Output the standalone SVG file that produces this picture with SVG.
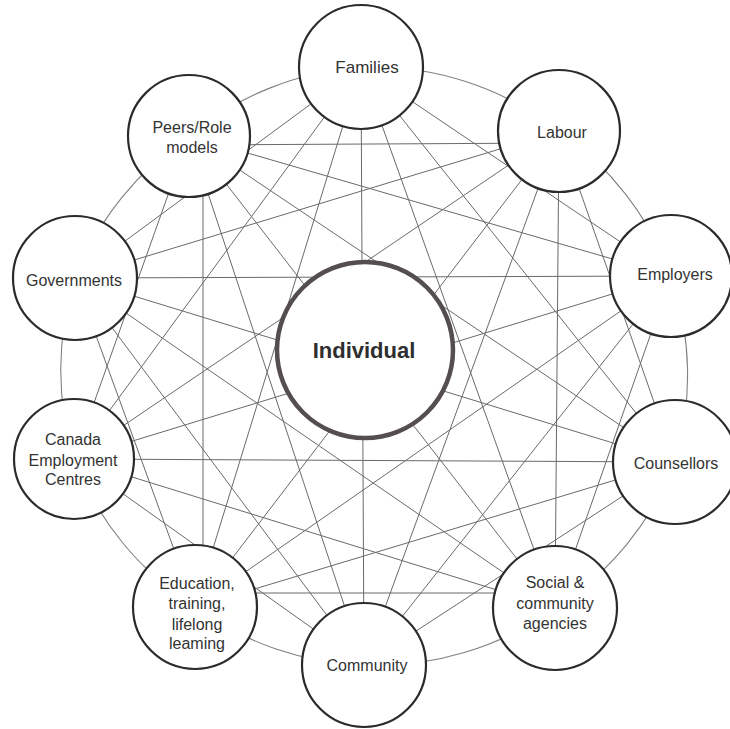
<svg xmlns="http://www.w3.org/2000/svg" width="730" height="729" viewBox="0 0 730 729">
  <style>
    .ring { fill: none; stroke: #808080; stroke-width: 1.1; }
    .link { stroke: #6a6a6a; stroke-width: 1; fill: none; }
    .node circle { fill: #ffffff; stroke: #2b2b2b; stroke-width: 2.2; }
    .node text { font-family: "Liberation Sans", Arial, sans-serif; font-size: 16px; fill: #333333; text-anchor: middle; }
    #individual circle { stroke: #544e4e; stroke-width: 4.5; }
    #individual text { font-size: 22px; font-weight: bold; fill: #2e2e2e; }
  </style>
  <rect width="730" height="729" fill="#ffffff"/>

  <g id="connectors">
    <!-- outer ring: arcs between neighbouring nodes -->
    <path class="ring" d="M361,67 A305,305 0 0 1 559,131 A305,305 0 0 1 671,276 A305,305 0 0 1 675,462 A305,305 0 0 1 555,608 A305,305 0 0 1 364,665 A305,305 0 0 1 195,607 A305,305 0 0 1 74,459 A305,305 0 0 1 75,278 A305,305 0 0 1 189,136 A305,305 0 0 1 361,67"/>
    <!-- Families -->
    <line class="link" x1="361" y1="67" x2="671" y2="276"/>
    <line class="link" x1="361" y1="67" x2="675" y2="462"/>
    <line class="link" x1="361" y1="67" x2="555" y2="608"/>
    <line class="link" x1="361" y1="67" x2="364" y2="665"/>
    <line class="link" x1="361" y1="67" x2="195" y2="607"/>
    <line class="link" x1="361" y1="67" x2="74" y2="459"/>
    <line class="link" x1="361" y1="67" x2="75" y2="278"/>
    <!-- Labour -->
    <line class="link" x1="559" y1="131" x2="675" y2="462"/>
    <line class="link" x1="559" y1="131" x2="555" y2="608"/>
    <line class="link" x1="559" y1="131" x2="364" y2="665"/>
    <line class="link" x1="559" y1="131" x2="195" y2="607"/>
    <line class="link" x1="559" y1="131" x2="74" y2="459"/>
    <line class="link" x1="559" y1="131" x2="75" y2="278"/>
    <line class="link" x1="559" y1="143" x2="189" y2="145"/>
    <!-- Employers -->
    <line class="link" x1="671" y1="276" x2="555" y2="608"/>
    <line class="link" x1="671" y1="276" x2="364" y2="665"/>
    <line class="link" x1="671" y1="276" x2="195" y2="607"/>
    <line class="link" x1="671" y1="276" x2="74" y2="459"/>
    <line class="link" x1="671" y1="276" x2="75" y2="278"/>
    <line class="link" x1="671" y1="276" x2="189" y2="136"/>
    <!-- Counsellors -->
    <line class="link" x1="675" y1="462" x2="364" y2="665"/>
    <line class="link" x1="675" y1="462" x2="195" y2="607"/>
    <line class="link" x1="675" y1="462" x2="74" y2="459"/>
    <line class="link" x1="675" y1="462" x2="75" y2="278"/>
    <line class="link" x1="675" y1="462" x2="189" y2="136"/>
    <!-- Social & community agencies -->
    <line class="link" x1="555" y1="593" x2="195" y2="593"/>
    <line class="link" x1="555" y1="608" x2="74" y2="459"/>
    <line class="link" x1="555" y1="608" x2="75" y2="278"/>
    <line class="link" x1="555" y1="608" x2="189" y2="136"/>
    <!-- Community -->
    <line class="link" x1="364" y1="665" x2="74" y2="459"/>
    <line class="link" x1="364" y1="665" x2="75" y2="278"/>
    <line class="link" x1="364" y1="665" x2="189" y2="136"/>
    <!-- Education -->
    <line class="link" x1="195" y1="607" x2="75" y2="278"/>
    <line class="link" x1="203" y1="600" x2="203" y2="140"/>
    <!-- Canada Employment Centres -->
    <line class="link" x1="74" y1="459" x2="189" y2="136"/>
  </g>

  <g id="families" class="node">
    <circle cx="361" cy="67" r="62"/>
    <text x="367" y="73" style="font-size:17px">Families</text>
  </g>
  <g id="labour" class="node">
    <circle cx="559" cy="131" r="61"/>
    <text x="562" y="138">Labour</text>
  </g>
  <g id="employers" class="node">
    <circle cx="671" cy="276" r="61"/>
    <text x="675" y="280">Employers</text>
  </g>
  <g id="counsellors" class="node">
    <circle cx="675" cy="462" r="62"/>
    <text x="676" y="469">Counsellors</text>
  </g>
  <g id="social" class="node">
    <circle cx="555" cy="608" r="62"/>
    <text x="555" y="588">Social &amp;</text>
    <text x="555" y="609">community</text>
    <text x="555" y="629">agencies</text>
  </g>
  <g id="community" class="node">
    <circle cx="364" cy="665" r="62"/>
    <text x="367" y="671">Community</text>
  </g>
  <g id="education" class="node">
    <circle cx="195" cy="607" r="62"/>
    <text x="197" y="589">Education,</text>
    <text x="197" y="609">training,</text>
    <text x="197" y="630">lifelong</text>
    <text x="197" y="649">leaming</text>
  </g>
  <g id="canada" class="node">
    <circle cx="74" cy="459" r="60"/>
    <text x="73" y="445">Canada</text>
    <text x="73" y="466">Employment</text>
    <text x="73" y="485">Centres</text>
  </g>
  <g id="governments" class="node">
    <circle cx="75" cy="278" r="62"/>
    <text x="74" y="286">Governments</text>
  </g>
  <g id="peers" class="node">
    <circle cx="189" cy="136" r="61"/>
    <text x="192" y="133">Peers/Role</text>
    <text x="192" y="153">models</text>
  </g>
  <g id="individual" class="node">
    <circle cx="365" cy="350" r="88"/>
    <text x="364" y="358">Individual</text>
  </g>
</svg>
